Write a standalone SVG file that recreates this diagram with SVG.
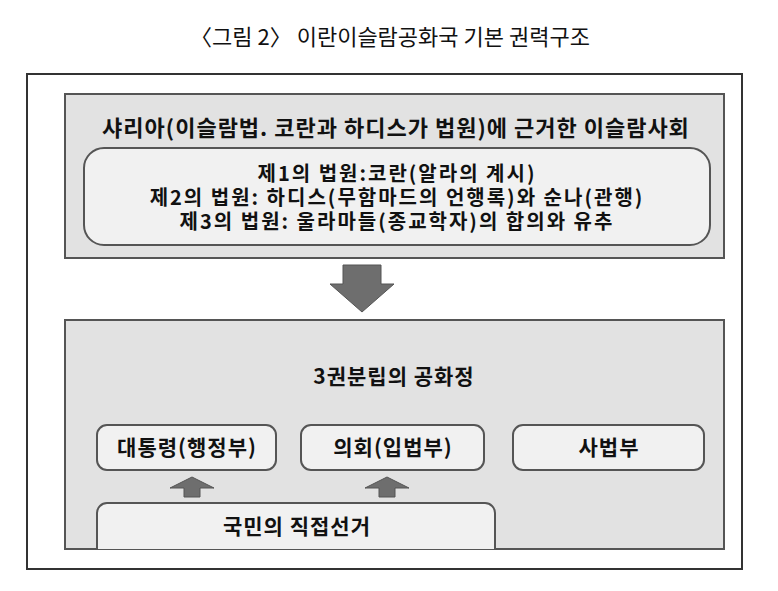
<svg xmlns="http://www.w3.org/2000/svg" width="778" height="591" viewBox="0 0 778 591">
<style>
text{font-family:"Noto Sans CJK KR","Noto Sans",sans-serif;fill:#111;text-anchor:middle}
.b{font-weight:bold;font-size:21px;letter-spacing:1px}
.s{font-size:20px;letter-spacing:2px}
.panel{fill:#e2e2e2;stroke:#555;stroke-width:2}
.box{fill:#f1f1f1;stroke:#555;stroke-width:2}
.arr{fill:#6e6e6e;stroke:#555;stroke-width:1}
</style>
<rect width="778" height="591" fill="#fff"/>
<text x="390" y="45" style="font-size:22px">〈그림 2〉 이란이슬람공화국 기본 권력구조</text>
<rect x="27" y="74" width="715" height="495" fill="#fff" stroke="#333" stroke-width="2"/>
<g id="sharia">
<rect class="panel" x="65" y="94" width="659" height="164"/>
<text class="b" x="396" y="136" style="font-size:22px">샤리아(이슬람법. 코란과 하디스가 법원)에 근거한 이슬람사회</text>
<rect class="box" x="84" y="148" width="626" height="97" rx="20"/>
<text class="b s" x="397" y="181">제1의 법원:코란(알라의 계시)</text>
<text class="b s" x="397" y="205">제2의 법원: 하디스(무함마드의 언행록)와 순나(관행)</text>
<text class="b s" x="397" y="229">제3의 법원: 울라마들(종교학자)의 합의와 유추</text>
</g>
<g id="gov">
<rect class="panel" x="65" y="320" width="659" height="229"/>
<text class="b" x="394" y="384">3권분립의 공화정</text>
</g>
<g id="connectors">
<polygon class="arr" points="343,265 381,265 381,284 394,284 362,312 330,284 343,284"/>
<polygon class="arr" points="184,497 200,497 200,488 214,488 192,477 170,488 184,488"/>
<polygon class="arr" points="379,497 395,497 395,488 409,488 387,477 365,488 379,488"/>
</g>
<g id="exec"><rect class="box" x="97" y="425" width="179" height="45" rx="10"/><text class="b" x="187" y="455">대통령(행정부)</text></g>
<g id="leg"><rect class="box" x="301" y="425" width="183" height="45" rx="10"/><text class="b" x="393" y="455">의회(입법부)</text></g>
<g id="jud"><rect class="box" x="513" y="425" width="191" height="45" rx="10"/><text class="b" x="609" y="455">사법부</text></g>
<g id="vote"><path class="box" d="M97,549 V513 a10,10 0 0 1 10,-10 H485 a10,10 0 0 1 10,10 V549"/><text class="b" x="297" y="534">국민의 직접선거</text></g>
</svg>
